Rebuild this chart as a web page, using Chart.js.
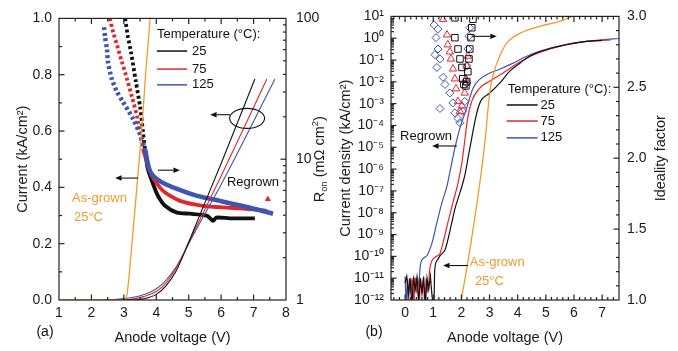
<!DOCTYPE html>
<html>
<head>
<meta charset="utf-8">
<script src="https://cdn.jsdelivr.net/npm/chart.js@4.4.1/dist/chart.umd.min.js"></script>
<style>
  html, body { margin: 0; padding: 0; background: #fff; }
  body { width: 678px; height: 351px; position: relative; overflow: hidden; }
  canvas { position: absolute; top: 0; }
  #chartA { left: 0; }
  #chartB { left: 334px; }
</style>
</head>
<body>
<canvas id="chartA" width="340" height="351"></canvas>
<canvas id="chartB" width="344" height="351"></canvas>
<script>
const FONT = "'Liberation Sans', Arial, Helvetica, sans-serif";

const tempLabels = ['25', '75', '125'];
const tempColors = ['#111111', '#e3262d', '#3e56ae'];
const grownColor = '#f29a2e';

// (a) current density, linear left axis (kA/cm2)
const aGrownV = [1, 3.05, 3.1, 3.15, 3.25, 3.4, 3.55, 3.67, 3.81, 3.9];
const aGrownI = [0, 0, 0.02, 0.07, 0.2, 0.4, 0.6, 0.8, 1.0, 1.12];
const aV25 = [2.4, 3.3, 3.6, 4.0, 4.3, 4.6, 4.8, 5.0, 5.3, 6.0, 7.04];
const aI25 = [0, 0, 0.004, 0.02, 0.05, 0.1, 0.15, 0.205, 0.29, 0.485, 0.785];
const aV75 = [2.4, 3.0, 3.3, 3.6, 4.0, 4.3, 4.6, 4.8, 5.0, 5.3, 6.0, 7.41];
const aI75 = [0, 0, 0.004, 0.012, 0.03, 0.06, 0.11, 0.155, 0.205, 0.275, 0.44, 0.785];
const aV125 = [2.4, 2.5, 3.0, 3.5, 4.0, 4.3, 4.6, 4.8, 5.0, 5.3, 6.0, 7.66];
const aI125 = [0, 0, 0.005, 0.015, 0.04, 0.07, 0.115, 0.155, 0.2, 0.265, 0.41, 0.785];

// (a) R_on, log right axis (mOhm cm2)
const aRonV25 = [3.04, 3.12, 3.22, 3.37, 3.50, 3.59, 3.65, 3.74, 3.90, 4.05, 4.27, 4.64, 5.04, 5.56, 5.75, 5.85, 6.27, 7.04];
const aRon25 = [100, 75, 57.6, 35.5, 23.6, 15.7, 11.8, 8.5, 6.67, 5.5, 4.67, 4.17, 4.10, 3.97, 3.65, 3.85, 3.8, 3.8];
const aRonV75 = [2.57, 2.67, 2.79, 2.94, 3.10, 3.25, 3.41, 3.50, 3.59, 3.87, 4.21, 4.73, 5.44, 6.27, 7.0, 7.41];
const aRon75 = [100, 79.6, 64.5, 49, 37, 27.7, 20.0, 15.0, 11.8, 7.6, 5.95, 5.06, 4.67, 4.52, 4.4, 4.3];
const aRonV75Out = [7.44];
const aRon75Out = [5.2];
const aRonV125 = [2.39, 2.42, 2.48, 2.51, 2.63, 2.79, 2.97, 3.28, 3.50, 3.65, 3.81, 4.11, 4.64, 5.26, 5.96, 6.89, 7.60];
const aRon125 = [86.5, 73.5, 60.4, 49, 37, 30.1, 25.6, 19.4, 15.0, 11.8, 8.2, 7.0, 6.15, 5.49, 5.06, 4.52, 4.10];

// (b) current density, log left axis (kA/cm2): noise floor, then the forward curve
const bV25Noise = [0.0, 0.06, 0.12, 0.18, 0.24, 0.3, 0.36, 0.42, 0.48, 0.54, 0.6, 0.66, 0.72, 0.78, 0.84, 0.9, 0.95, 1.0, 1.03];
const bJ25Noise = [6e-12, 1.2e-11, 2e-12, 1e-11, 6e-13, 9e-12, 3e-12, 1.1e-11, 8e-13, 1e-11, 2e-12, 1.2e-11, 5e-13, 1e-11, 3e-12, 1.2e-11, 2e-12, 5e-13, 5e-13];
const bV25 = [1.03, 1.05, 1.13, 1.25, 1.42, 1.5, 1.66, 1.77, 1.95, 2.12, 2.25, 2.38, 2.5, 2.62, 2.73, 3.0, 3.36, 3.72, 4.07, 4.42, 4.78, 5.73, 6.44, 7.0];
const bJ25 = [5e-13, 2e-11, 6.3e-11, 1.1e-10, 2e-10, 4.5e-10, 3.5e-9, 1.5e-8, 8.3e-8, 5e-7, 4e-6, 3.2e-5, 2e-4, 8e-4, 1.6e-3, 3e-3, 8.7e-3, 3.1e-2, 7e-2, 0.15, 0.24, 0.5, 0.71, 0.8];
const bV75Noise = [0.1, 0.15, 0.2, 0.25, 0.3, 0.35, 0.4, 0.45, 0.5, 0.55, 0.6, 0.65, 0.7, 0.75, 0.8, 0.85];
const bJ75Noise = [5e-13, 9e-12, 2e-12, 1e-11, 5e-13, 1.1e-11, 3e-12, 8e-12, 5e-13, 1e-11, 2e-12, 9e-12, 5e-13, 1e-11, 3e-12, 8e-12];
const bV75 = [0.85, 0.88, 1.06, 1.24, 1.35, 1.52, 1.70, 1.88, 2.02, 2.12, 2.22, 2.37, 2.65, 3.0, 3.47, 3.96, 4.32, 4.78, 5.73, 6.44, 7.3];
const bJ75 = [8e-12, 2.8e-11, 9e-11, 1.35e-10, 4.3e-10, 3.5e-9, 2.9e-8, 2.3e-7, 2e-6, 2e-5, 2e-4, 1.3e-3, 5.1e-3, 1.07e-2, 2.5e-2, 6.5e-2, 0.12, 0.22, 0.5, 0.71, 0.83];
const bV125Noise = [0.0, 0.04, 0.08, 0.12, 0.16, 0.2, 0.25, 0.3, 0.35, 0.4, 0.45, 0.5];
const bJ125Noise = [1.2e-11, 5e-13, 9e-12, 5e-13, 1e-11, 2e-12, 8e-12, 5e-13, 1e-11, 3e-12, 9e-12, 4e-12];
const bV125 = [0.5, 0.53, 0.64, 0.78, 0.96, 1.13, 1.31, 1.49, 1.66, 1.77, 1.95, 2.19, 2.41, 2.65, 3.0, 3.36, 3.82, 4.32, 4.78, 5.73, 6.44, 7.0, 7.6];
const bJ125 = [4e-12, 2.8e-11, 8e-11, 1.1e-10, 4.3e-10, 3.5e-9, 2.9e-8, 1.7e-7, 2e-6, 9.3e-6, 7.8e-5, 6.3e-4, 5e-3, 1.3e-2, 2.5e-2, 3.8e-2, 7e-2, 0.15, 0.25, 0.52, 0.72, 0.85, 0.97];
const bGrownV = [2.0, 2.35, 2.7, 2.85, 2.95, 3.03, 3.12, 3.22, 3.36, 3.61, 4.07, 4.78, 5.49, 5.95, 6.3];
const bGrownJ = [1e-12, 5e-10, 6.3e-7, 2.5e-5, 6.3e-4, 5e-3, 1.8e-2, 5e-2, 0.15, 0.59, 1.66, 3.5, 5.9, 10, 12.6];

// (b) ideality factor, linear right axis
const bNV25 = [1.77, 1.77, 1.88, 1.95, 2.02, 2.05, 2.09, 2.16, 2.19, 2.23, 2.27, 2.30, 2.34, 2.37, 2.41];
const bN25 = [2.99, 2.85, 2.77, 2.70, 2.64, 2.56, 2.52, 2.51, 2.54, 2.61, 2.70, 2.77, 2.85, 2.92, 2.98];
const bNV75 = [1.35, 1.49, 1.52, 1.59, 1.63, 1.70, 1.77, 1.81, 1.88, 1.95, 2.02, 2.12, 2.16, 2.19, 2.23];
const bN75 = [2.98, 2.87, 2.80, 2.75, 2.70, 2.63, 2.56, 2.49, 2.40, 2.33, 2.37, 2.46, 2.56, 2.65, 2.72];
const bNV125 = [1.03, 1.17, 1.10, 1.17, 1.06, 1.24, 1.13, 1.35, 1.42, 1.24, 1.59, 1.70, 1.77, 1.88, 1.95, 2.05, 2.12, 2.19, 2.19, 2.23, 2.27, 2.30];
const bN125 = [2.94, 2.91, 2.85, 2.77, 2.73, 2.70, 2.64, 2.57, 2.52, 2.35, 2.46, 2.39, 2.32, 2.28, 2.25, 2.33, 2.40, 2.53, 2.65, 2.77, 2.86, 2.92];

Chart.defaults.font.family = FONT;
Chart.defaults.font.size = 14;
Chart.defaults.color = '#1a1a1a';

const pts = (xs, ys) => xs.map((x, i) => ({x, y: ys[i]}));

function linTicks(min, max, step) {
  const out = [];
  for (let k = Math.ceil(min / step - 1e-9); k * step <= max + 1e-9; k++) out.push(+(k * step).toFixed(6));
  return out.map(value => ({value}));
}
function logTicks(e0, e1) {
  const out = [];
  for (let e = e0; e < e1; e++) for (let m = 1; m < 10; m++) out.push(+(m * Math.pow(10, e)).toPrecision(3));
  out.push(Math.pow(10, e1));
  return out.map(value => ({value}));
}
const isPow10 = v => Math.abs(Math.log10(v) - Math.round(Math.log10(v))) < 1e-6;
const SUP = {'-': '⁻', '0': '⁰', '1': '¹', '2': '²', '3': '³', '4': '⁴', '5': '⁵', '6': '⁶', '7': '⁷', '8': '⁸', '9': '⁹'};
const supLabel = v => '10' + String(Math.round(Math.log10(v))).split('').map(c => SUP[c]).join('');

function arrow(ctx, x1, y1, x2, y2) {
  const ang = Math.atan2(y2 - y1, x2 - x1), h = 6.5, w = 2.7;
  const bx = x2 - h * Math.cos(ang), by = y2 - h * Math.sin(ang);
  ctx.beginPath(); ctx.moveTo(x1, y1); ctx.lineTo(bx, by); ctx.stroke();
  ctx.beginPath(); ctx.moveTo(x2, y2);
  ctx.lineTo(bx - w * Math.sin(ang), by + w * Math.cos(ang));
  ctx.lineTo(bx + w * Math.sin(ang), by - w * Math.cos(ang));
  ctx.closePath(); ctx.fill();
}

function richVertical(ctx, parts, cx, cy, size) {
  ctx.save();
  ctx.translate(cx, cy);
  ctx.rotate(-Math.PI / 2);
  const fontFor = p => `${p.sub || p.sup ? size * 0.65 : size}px ${FONT}`;
  let w = 0;
  parts.forEach(p => { ctx.font = fontFor(p); w += ctx.measureText(p.t).width; });
  let xx = -w / 2;
  ctx.textAlign = 'left';
  ctx.textBaseline = 'middle';
  ctx.fillStyle = '#1a1a1a';
  parts.forEach(p => {
    ctx.font = fontFor(p);
    const dy = p.sub ? size * 0.32 : p.sup ? -size * 0.35 : 0;
    ctx.fillText(p.t, xx, dy);
    xx += ctx.measureText(p.t).width;
  });
  ctx.restore();
}

const deco = {
  id: 'deco',
  afterDatasetsDraw(chart) {
    const {ctx, chartArea: a} = chart;
    ctx.save();
    ctx.strokeStyle = '#222';
    ctx.lineWidth = 1.2;
    ctx.strokeRect(a.left, a.top, a.right - a.left, a.bottom - a.top);
    const seg = (x1, y1, x2, y2) => { ctx.beginPath(); ctx.moveTo(x1, y1); ctx.lineTo(x2, y2); ctx.stroke(); };
    Object.values(chart.scales).forEach(s => {
      s.ticks.forEach(t => {
        const len = t.label === '' ? 3 : 5.5;
        const p = s.getPixelForValue(t.value);
        if (s.isHorizontal()) {
          if (p < a.left + 1 || p > a.right - 1) return;
          seg(p, a.bottom, p, a.bottom - len);
          seg(p, a.top, p, a.top + len);
        } else {
          if (p < a.top + 1 || p > a.bottom - 1) return;
          if (s.position === 'left') seg(a.left, p, a.left + len, p);
          else seg(a.right, p, a.right - len, p);
        }
      });
    });
    ctx.restore();
  },
  afterDraw(chart, args, o) {
    const {ctx, chartArea: a, scales: {x, y}} = chart;
    const X = v => x.getPixelForValue(v), Y = v => y.getPixelForValue(v);
    ctx.save();
    ctx.font = `13px ${FONT}`;
    ctx.textBaseline = 'middle';
    ctx.textAlign = 'left';
    o.texts.forEach(t => { ctx.fillStyle = t.color; ctx.fillText(t.text, X(t.x), Y(t.y)); });
    ctx.strokeStyle = '#111';
    ctx.fillStyle = '#111';
    ctx.lineWidth = 1.1;
    o.arrows.forEach(r => arrow(ctx, X(r.x1), Y(r.y), X(r.x2), Y(r.y)));
    if (o.ellipse) {
      ctx.beginPath();
      ctx.ellipse(X(o.ellipse.x), Y(o.ellipse.y), o.ellipse.rx, o.ellipse.ry, 0, 0, 2 * Math.PI);
      ctx.stroke();
    }
    const lg = o.legend;
    ctx.fillStyle = '#111';
    ctx.fillText('Temperature (°C):', X(lg.x), Y(lg.y));
    lg.rows.forEach((r, i) => {
      ctx.strokeStyle = tempColors[i];
      ctx.lineWidth = 1.5;
      ctx.beginPath(); ctx.moveTo(X(lg.x1), Y(r)); ctx.lineTo(X(lg.x2), Y(r)); ctx.stroke();
      ctx.fillStyle = '#111';
      ctx.fillText(tempLabels[i], X(lg.tx), Y(r));
    });
    ctx.font = `14px ${FONT}`;
    ctx.textAlign = 'center';
    ctx.fillText(o.tag.text, o.tag.x, o.tag.y);
    richVertical(ctx, o.rightTitle.parts, o.rightTitle.x, (a.top + a.bottom) / 2, 14.5);
    ctx.restore();
  }
};

const hidden = { grid: { display: false, drawTicks: false }, border: { display: false } };

// dotted look where the measured points are sparse (high R_on), solid band below
const sparseDash = { borderDash: c => c.p0.parsed.y > 14 ? [3, 2.6] : undefined };
const ronLine = (xs, ys, color, w, order) => ({
  data: pts(xs, ys), yAxisID: 'y2', showLine: true, tension: 0.25, borderColor: color, borderWidth: w,
  borderCapStyle: 'butt', pointRadius: 0, segment: sparseDash, order
});
const smooth = (xs, ys, color, w, axis) => ({
  data: pts(xs, ys), yAxisID: axis, showLine: true, borderColor: color, borderWidth: w,
  pointRadius: 0, cubicInterpolationMode: 'monotone', order: 0
});
const jagged = (xs, ys, color) => ({
  data: pts(xs, ys), yAxisID: 'y', showLine: true, borderColor: color, borderWidth: 1.2,
  pointRadius: 0, tension: 0, order: 0
});

// ---------- panel (a) ----------
new Chart(document.getElementById('chartA'), {
  type: 'scatter',
  data: {
    datasets: [
      { data: pts(aGrownV, aGrownI), yAxisID: 'y', showLine: true, borderColor: grownColor, borderWidth: 1.3, pointRadius: 0, order: 0 },
      smooth(aV25, aI25, tempColors[0], 1.1, 'y'),
      smooth(aV75, aI75, tempColors[1], 1.1, 'y'),
      smooth(aV125, aI125, tempColors[2], 1.1, 'y'),
      ronLine(aRonV125, aRon125, tempColors[2], 4.5, 1),
      ronLine(aRonV75, aRon75, tempColors[1], 3.8, 2),
      { data: pts(aRonV75Out, aRon75Out), yAxisID: 'y2', pointStyle: 'triangle', pointRadius: 2.8, pointBackgroundColor: tempColors[1], pointBorderColor: tempColors[1], order: 2 },
      ronLine(aRonV25, aRon25, tempColors[0], 3.8, 3)
    ]
  },
  options: {
    responsive: false,
    animation: false,
    events: [],
    layout: { padding: { top: 16, left: 0, right: 0, bottom: 0 } },
    scales: {
      x: {
        type: 'linear', min: 1, max: 8, ...hidden,
        afterBuildTicks: s => { s.ticks = linTicks(1, 8, 0.5); },
        ticks: { autoSkip: false, maxRotation: 0, padding: 5, callback: v => Number.isInteger(v) ? String(v) : '' },
        title: { display: true, text: 'Anode voltage (V)', font: { size: 14.5 }, padding: { top: 0, bottom: 4 } },
        afterFit: s => { s.height = 51; }
      },
      y: {
        type: 'linear', position: 'left', min: 0, max: 1, ...hidden,
        afterBuildTicks: s => { s.ticks = linTicks(0, 1, 0.1); },
        ticks: { autoSkip: false, padding: 7, callback: v => Math.round(v * 10) % 2 === 0 ? v.toFixed(1) : '' },
        title: { display: true, text: 'Current (kA/cm²)', font: { size: 14.5 }, padding: { top: 14, bottom: 0 } },
        afterFit: s => { s.width = 59; }
      },
      y2: {
        type: 'logarithmic', position: 'right', min: 1, max: 100, ...hidden,
        afterBuildTicks: s => { s.ticks = logTicks(0, 2); },
        ticks: { autoSkip: false, padding: 10, callback: v => isPow10(v) ? String(Math.round(v)) : '' },
        afterFit: s => { s.width = 54; }
      }
    },
    plugins: {
      legend: { display: false },
      tooltip: { enabled: false },
      deco: {
        texts: [
          { text: 'As-grown', x: 1.40, y: 0.36, color: grownColor },
          { text: '25°C', x: 1.46, y: 0.292, color: grownColor },
          { text: 'Regrown', x: 6.18, y: 0.419, color: '#111' }
        ],
        arrows: [
          { x1: 6.27, x2: 5.66, y: 0.658 },
          { x1: 4.05, x2: 4.73, y: 0.461 },
          { x1: 3.44, x2: 2.73, y: 0.433 }
        ],
        ellipse: { x: 6.8, y: 0.645, rx: 17.5, ry: 10 },
        legend: { x: 4.02, y: 0.944, rows: [0.884, 0.82, 0.764], x1: 4.02, x2: 4.95, tx: 5.1 },
        tag: { text: '(a)', x: 45, y: 332 },
        rightTitle: { x: 320, parts: [{ t: 'R' }, { t: 'on', sub: true }, { t: ' (mΩ cm' }, { t: '2', sup: true }, { t: ')' }] }
      }
    }
  },
  plugins: [deco]
});

// ---------- panel (b) ----------
const openPts = (xs, ys, color, style, r) => ({
  data: pts(xs, ys), yAxisID: 'y2', pointStyle: style, pointRadius: r,
  pointBackgroundColor: 'rgba(0,0,0,0)', pointBorderColor: color, pointBorderWidth: 1, order: 1
});

new Chart(document.getElementById('chartB'), {
  type: 'scatter',
  data: {
    datasets: [
      smooth(bGrownV, bGrownJ, grownColor, 1.3, 'y'),
      jagged(bV25Noise, bJ25Noise, tempColors[0]),
      jagged(bV75Noise, bJ75Noise, tempColors[1]),
      jagged(bV125Noise, bJ125Noise, tempColors[2]),
      smooth(bV25, bJ25, tempColors[0], 1.2, 'y'),
      smooth(bV75, bJ75, tempColors[1], 1.2, 'y'),
      smooth(bV125, bJ125, tempColors[2], 1.2, 'y'),
      openPts(bNV25, bN25, tempColors[0], 'rect', 4.6),
      openPts(bNV75, bN75, tempColors[1], 'triangle', 4.3),
      openPts(bNV125, bN125, tempColors[2], 'rectRot', 4)
    ]
  },
  options: {
    responsive: false,
    animation: false,
    events: [],
    layout: { padding: { top: 15, left: 0, right: 0, bottom: 0 } },
    scales: {
      x: {
        type: 'linear', min: -0.5, max: 7.6, ...hidden,
        afterBuildTicks: s => { s.ticks = linTicks(-0.5, 7.6, 0.2); },
        ticks: { autoSkip: false, maxRotation: 0, padding: 5, callback: v => Number.isInteger(v) ? String(v) : '' },
        title: { display: true, text: 'Anode voltage (V)', font: { size: 14.5 }, padding: { top: 0, bottom: 4 } },
        afterFit: s => { s.height = 51; }
      },
      y: {
        type: 'logarithmic', position: 'left', min: 1e-12, max: 10, ...hidden,
        afterBuildTicks: s => { s.ticks = logTicks(-12, 1); },
        ticks: { autoSkip: false, padding: 7, callback: v => isPow10(v) ? supLabel(v) : '' },
        title: { display: true, text: 'Current density (kA/cm²)', font: { size: 14.5 }, padding: { top: 3.5, bottom: 0 } },
        afterFit: s => { s.width = 57; }
      },
      y2: {
        type: 'linear', position: 'right', min: 1, max: 3, ...hidden,
        afterBuildTicks: s => { s.ticks = linTicks(1, 3, 0.1); },
        ticks: { autoSkip: false, padding: 8, callback: v => Math.round(v * 10) % 5 === 0 ? v.toFixed(1) : '' },
        afterFit: s => { s.width = 59; }
      }
    },
    plugins: {
      legend: { display: false },
      tooltip: { enabled: false },
      deco: {
        texts: [
          { text: 'Regrown', x: -0.18, y: 3e-5, color: '#111' },
          { text: 'As-grown', x: 2.3, y: 5.2e-11, color: grownColor },
          { text: '25°C', x: 2.48, y: 7e-12, color: grownColor }
        ],
        arrows: [
          { x1: 2.37, x2: 3.26, y: 1.22 },
          { x1: 1.84, x2: 0.96, y: 1.15e-5 },
          { x1: 2.23, x2: 1.35, y: 3.8e-11 }
        ],
        legend: { x: 3.65, y: 4.7e-3, rows: [8.7e-4, 1.6e-4, 2.7e-5], x1: 3.61, x2: 4.71, tx: 4.81 },
        tag: { text: '(b)', x: 40, y: 332 },
        rightTitle: { x: 327, parts: [{ t: 'Ideality factor' }] }
      }
    }
  },
  plugins: [deco]
});
</script>
</body>
</html>
